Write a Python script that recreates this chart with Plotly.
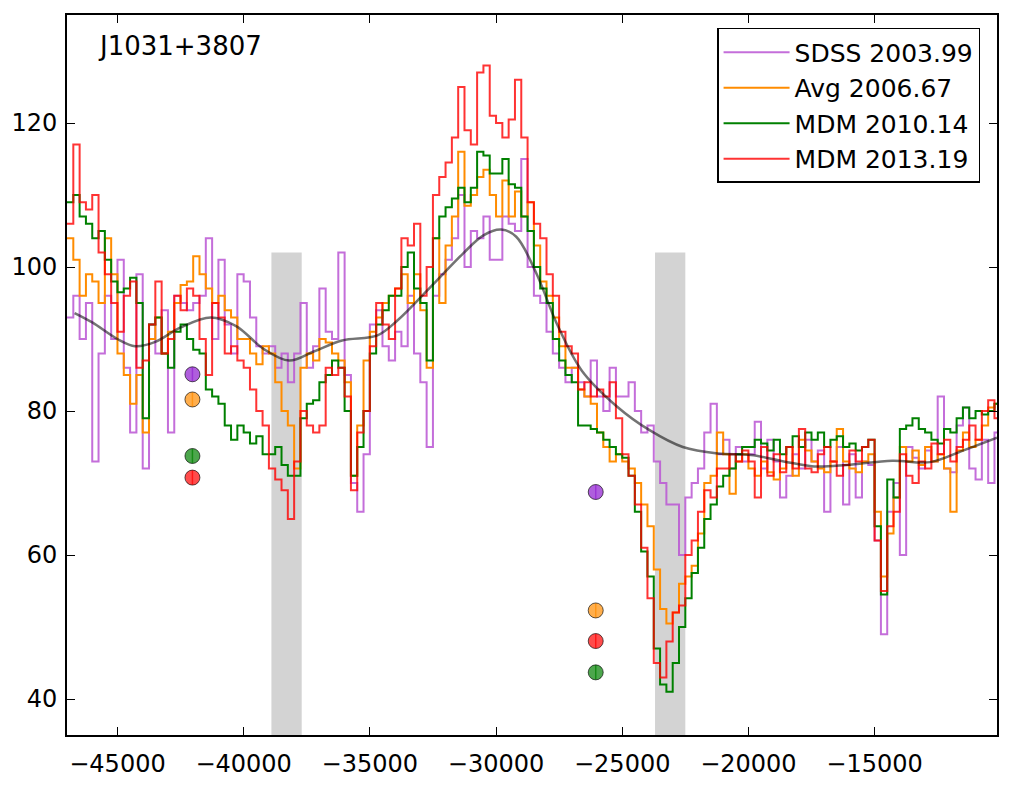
import numpy as np
import plotly.graph_objects as go

# ---------------- data ----------------
bin_start = -47000      # km/s, left edge of first bin
bin_width = 250         # km/s

sdss_2003 = [
    93, 96, 90, 95,   73, 88, 96, 90,   101, 86, 77, 99,   72, 92, 88, 94,
    77, 96, 95, 94,   95, 96, 104, 90,  101, 92, 88, 99,   98, 93, 89, 88,
    89, 86, 88, 84,   88, 95, 86, 89,   97, 91, 90, 102,   85, 70, 66, 74,
    92, 94, 89, 87,   91, 89, 96, 88,   84, 75, 96, 99,   101, 104, 110, 100,
    105, 104, 107, 101, 101, 107, 106, 105, 115, 100, 96, 95, 91, 88, 86, 84,
    86, 84, 82, 87,   82, 80, 86, 82,   82, 84, 80, 77,   78, 73, 70, 67,
    67, 60, 68, 70,   72, 77, 81, 74,   76, 72, 75, 73,   74, 78.5, 72, 76,
    73, 68, 71, 74,   72, 76, 73, 74.5, 66, 73, 75, 67,   74, 68, 73, 72.5,
    62, 49, 66, 70,   60, 75, 73.5, 72, 74.5, 73, 82, 72, 71.5, 78, 80.5, 72,
    70.5, 76, 70, 77,
]

avg_2006 = [
    104, 101, 96, 99,  98, 95, 104, 99,  88, 85, 81, 85,   77, 90, 93, 88,
    91, 95, 97.5, 98,  101.5, 99, 97, 95, 96, 94, 93, 90,  90, 88, 86.5, 89,
    88, 84, 80, 78,    72, 86, 88, 87,   90, 89.5, 88, 87, 84, 71, 78, 87,
    91, 93, 95, 96,    97, 99, 95, 99,   94, 86, 104, 95,  103, 107, 116, 108.5,
    110, 112.5, 113.5, 110, 107, 112, 107, 110.5, 107, 109, 103, 98, 96, 93, 89, 86,
    86, 83, 82, 81,    77, 75, 73, 74,   73, 72, 70, 67,   64, 58, 52.5, 50.5,
    52, 56, 57, 58.5,  63, 70, 71, 77,   74, 68.5, 73, 74, 72, 71, 73, 71.5,
    70.5, 72, 75, 71,  76, 74.5, 73, 72, 71.5, 73, 77.5, 73, 72, 71.5, 73, 74,
    66, 57, 63, 68,    75, 73, 74.5, 72.5, 75, 73, 74, 72, 66, 74.5, 77, 75,
    76, 78, 80.5, 81,
]

mdm_2010 = [
    109, 110, 107, 106, 104, 105, 101, 98, 96.5, 97, 98.5, 95, 79, 92, 93, 88,
    86, 91, 92, 90,     88.5, 88, 83, 82,  81, 78, 76, 78,   77, 75.5, 76.5, 74,
    74, 75, 72.5, 71,   71, 79, 81, 81.5,  84, 85, 87, 86,   80, 71, 75, 80,
    88, 92, 94, 96,     96, 100, 102, 97,  95, 87, 104, 107, 108.3, 109.5, 111, 109,
    111, 116, 115.5, 113, 113, 115, 111.5, 111, 107, 105, 100, 97, 95, 90, 87, 85,
    84, 78, 78, 77.5,   77, 76, 75, 74,    73.5, 71, 66, 60.5, 57, 47, 42, 41,
    45, 50, 54, 57.5,   61, 65, 67, 69.5,  71, 72, 74, 75,   75, 76, 75.5, 74.5,
    76, 74, 75, 76.5,   75, 77, 76, 77,    75, 76, 76.5, 75, 75.5, 74.5, 75, 76,
    64, 54.5, 70.5, 68, 77.5, 78, 79, 77.5, 77, 76, 75.5, 77.5, 77, 79, 80.5, 79,
    80, 79.5, 80, 81,
]

mdm_2013 = [
    106, 117, 109, 108, 110, 102, 99, 95,  91, 96, 98, 86,   87, 92, 98, 88,
    90, 96, 94, 97,     96, 90, 85, 95,    93, 88, 89, 87,   86, 83, 80, 78,
    72, 70.5, 69, 65,   73, 80, 78, 77,    78, 86, 85, 86,   82, 69, 77, 80,
    89, 95, 92, 90,     97, 104, 103, 106, 96, 100, 110, 112.5, 114.5, 118, 125, 119,
    117, 127, 128, 121, 120, 118, 120.5, 126, 118, 109, 106, 104, 99, 96, 91, 89,
    88, 83, 84, 82,     83, 82, 84, 79,    74, 71, 67, 61,   54, 45, 43, 48,
    52, 53, 60, 62,     66, 69, 68, 72,    72, 74, 73, 74.5, 73, 68, 75, 71,
    74, 71.5, 75, 72,   77.5, 72, 71.5, 74, 75, 73, 71, 72.5, 74.5, 73, 75, 76,
    62, 55, 64, 66,     74, 71, 70, 73,    72, 75.5, 74, 76, 73, 75, 76, 78,
    76, 80, 81.5, 79,
]

cont_v = [-46700, -46000, -45000, -44300, -43500, -42500, -41300, -40300, -39200,
          -38200, -37200, -36100, -34700, -33900, -32600, -31300, -30500, -29800,
          -29200, -28400, -27600, -26600, -25200, -23900, -22600, -21200, -19900,
          -18600, -17400, -16100, -14300, -12800, -11500, -10150]
cont_f = [93.6, 92.3, 90.0, 89.0, 89.6, 91.6, 93.0, 91.8, 88.6,
          87.0, 88.3, 89.8, 90.5, 92.6, 97.2, 101.9, 104.4, 105.2,
          104.2, 99.1, 92.2, 85.6, 80.6, 77.3, 75.0, 74.1, 73.9,
          73.0, 72.3, 72.5, 73.1, 72.9, 74.5, 76.3]

bands = [(-38900, -37700), (-23700, -22500)]
band_top = 102

dot_v = [-42030, -26050]
dot_sdss = [85.1, 68.75]
dot_avg = [81.6, 52.3]
dot_2010 = [73.75, 43.7]
dot_2013 = [70.75, 48.05]
dot_err = [1.0, 1.0]

series = [
    ("SDSS 2003.99", sdss_2003, dot_sdss, "rgba(186,85,211,0.85)", "rgba(148,40,210,0.75)"),
    ("Avg 2006.67", avg_2006, dot_avg, "rgba(255,140,0,1)", "rgba(255,140,0,0.7)"),
    ("MDM 2010.14", mdm_2010, dot_2010, "rgba(0,128,0,1)", "rgba(0,128,0,0.7)"),
    ("MDM 2013.19", mdm_2013, dot_2013, "rgba(255,0,0,0.8)", "rgba(255,0,0,0.7)"),
]

x_ticks = [-45000, -40000, -35000, -30000, -25000, -20000, -15000]
y_ticks = [40, 60, 80, 100, 120]

# ---------------- figure ----------------
fig = go.Figure()

n = len(sdss_2003)
edges = bin_start + bin_width * np.arange(n + 1)

for name, vals, _, col, _ in series:
    fig.add_trace(go.Scatter(
        x=edges, y=list(vals) + [vals[-1]], mode="lines", name=name,
        line=dict(color=col, width=2, shape="hv"), legendgroup=name,
    ))

fig.add_trace(go.Scatter(
    x=cont_v, y=cont_f, mode="lines", showlegend=False,
    line=dict(color="rgba(0,0,0,0.55)", width=2.5, shape="spline", smoothing=1.0),
))

for name, _, dvals, _, dcol in series:
    fig.add_trace(go.Scatter(
        x=dot_v, y=dvals, mode="markers", showlegend=False,
        marker=dict(size=15, color=dcol, line=dict(color="rgba(0,0,0,0.8)", width=0.8)),
        error_y=dict(type="data", array=dot_err, thickness=1.5, width=0, color=dcol),
    ))

for x0, x1 in bands:
    fig.add_shape(type="rect", x0=x0, x1=x1, y0=0, y1=band_top, xref="x", yref="y",
                  fillcolor="#d3d3d3", line=dict(width=0), layer="below")

fig.add_annotation(text="J1031+3807", xref="paper", yref="paper", x=0.031, y=0.957,
                   xanchor="left", yanchor="middle", showarrow=False,
                   font=dict(size=26, color="black"))

axis_common = dict(showline=True, linecolor="black", linewidth=2, mirror="ticks",
                   ticks="inside", ticklen=8, tickwidth=1, tickcolor="black",
                   showgrid=False, zeroline=False, tickfont=dict(size=24))

fig.update_layout(
    width=1012, height=789,
    margin=dict(l=67, r=15, t=15, b=54),
    plot_bgcolor="white", paper_bgcolor="white",
    font=dict(family="DejaVu Sans", size=24, color="black"),
    xaxis=dict(range=[-47000, -10150], tickvals=x_ticks, ticklabelstandoff=6,
               ticktext=["\u2212" + str(abs(v)) for v in x_ticks], **axis_common),
    yaxis=dict(range=[35, 135], tickvals=y_ticks, ticklabelstandoff=3,
               ticktext=[str(v) for v in y_ticks], **axis_common),
    legend=dict(x=0.699, y=0.982, xanchor="left", yanchor="top",
                bordercolor="black", borderwidth=1.5, bgcolor="white",
                font=dict(size=25), tracegroupgap=4, itemwidth=66,
                traceorder="normal"),
)

fig.write_html("out.html")
